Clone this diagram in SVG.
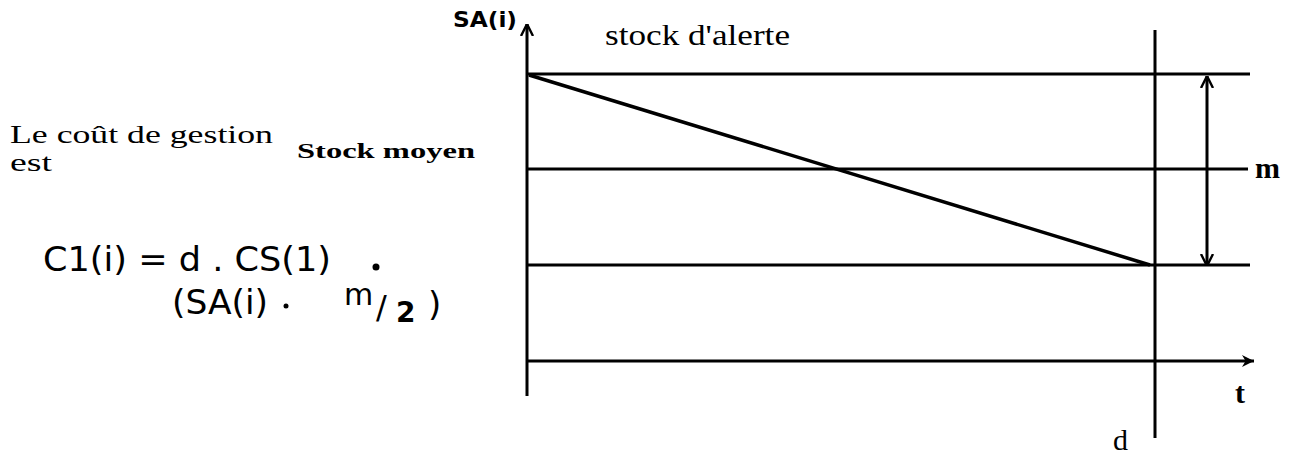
<svg xmlns="http://www.w3.org/2000/svg" width="1307" height="456" viewBox="0 0 1307 456">
<style>
.ln{stroke:#000;stroke-width:3;fill:none;stroke-linecap:butt}
.serif{font-family:"Liberation Serif","DejaVu Serif",serif;fill:#000}
.hand{font-family:"DejaVu Sans","Liberation Sans",sans-serif;fill:#000}
</style>
<defs>
<marker id="ahf" viewBox="0 0 10 10" refX="10" refY="5" markerWidth="14" markerHeight="12" orient="auto" markerUnits="userSpaceOnUse">
<path d="M0,0 L10,5 L0,10 L3,5 Z" fill="#000"/>
</marker>
<marker id="ahv" viewBox="0 0 10 10" refX="10" refY="5" markerWidth="12" markerHeight="16" orient="auto-start-reverse" markerUnits="userSpaceOnUse">
<path d="M0,0 L10,5 L0,10" fill="none" stroke="#000" stroke-width="2"/>
</marker>
</defs>
<rect width="1307" height="456" fill="#fff"/>
<g id="connectors">
<line class="ln" x1="527" y1="396" x2="527" y2="24" marker-end="url(#ahv)"/>
<line class="ln" x1="527" y1="74" x2="1250" y2="74"/>
<line class="ln" x1="527" y1="169" x2="1248" y2="169"/>
<line class="ln" x1="527" y1="265" x2="1250" y2="265"/>
<line class="ln" x1="527" y1="361" x2="1254" y2="361" marker-end="url(#ahf)"/>
<line class="ln" x1="1155" y1="30" x2="1155" y2="438"/>
<line class="ln" x1="529" y1="75" x2="1150" y2="265" style="stroke-width:3.5"/>
<line class="ln" x1="1207" y1="266" x2="1207" y2="76" marker-start="url(#ahv)" marker-end="url(#ahv)"/>
</g>
<g id="labels">
<text class="hand" x="453" y="27" font-size="22" font-weight="bold" textLength="64" lengthAdjust="spacingAndGlyphs">SA(i)</text>
<text class="serif" x="605" y="45" font-size="29" textLength="185" lengthAdjust="spacingAndGlyphs">stock d'alerte</text>
<text class="serif" x="10" y="143" font-size="25" textLength="263" lengthAdjust="spacingAndGlyphs">Le coût de gestion</text>
<text class="serif" x="10" y="171" font-size="25" textLength="42" lengthAdjust="spacingAndGlyphs">est</text>
<text class="serif" x="297" y="158" font-size="22" font-weight="bold" textLength="178" lengthAdjust="spacingAndGlyphs">Stock moyen</text>
<text class="serif" x="1255" y="178" font-size="30" font-weight="bold">m</text>
<text class="serif" x="1235" y="403" font-size="30" font-weight="bold">t</text>
<text class="serif" x="1113" y="450" font-size="30">d</text>
</g>
<g id="formula">
<text class="hand" x="43" y="271" font-size="34" textLength="288" lengthAdjust="spacingAndGlyphs">C1(i) = d . CS(1)</text>
<circle cx="376" cy="267" r="3.5" fill="#000"/>
<text class="hand" x="172" y="314" font-size="34" textLength="96" lengthAdjust="spacingAndGlyphs">(SA(i)</text>
<circle cx="286" cy="306" r="2.5" fill="#000"/>
<text class="hand" x="344" y="305" font-size="30">m</text>
<text class="hand" x="376" y="318" font-size="32">/</text>
<text class="hand" x="396" y="322" font-size="28" font-weight="bold">2</text>
<text class="hand" x="428" y="316" font-size="34">)</text>
</g>
</svg>
